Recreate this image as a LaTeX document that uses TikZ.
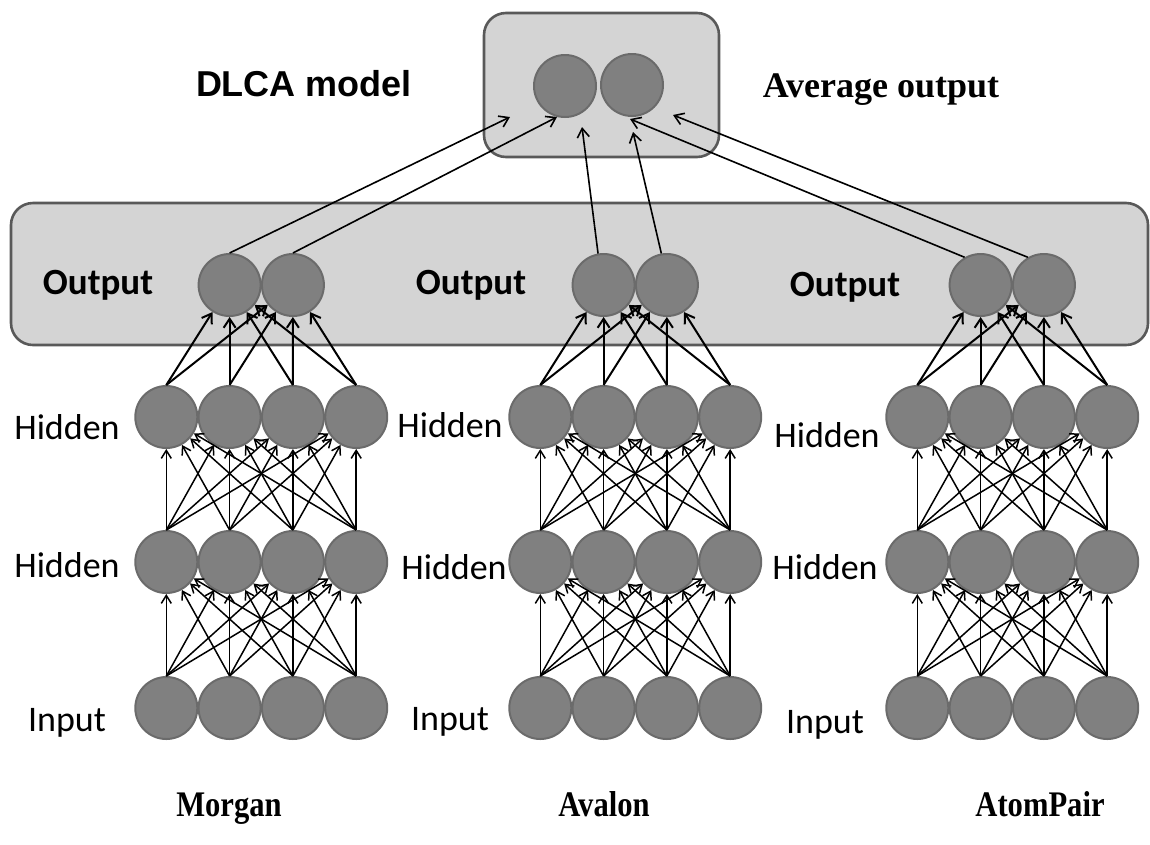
\documentclass[tikz,border=0pt]{standalone}
\usepackage{fontspec}
\setmainfont{Liberation Serif}
\newfontfamily\calibrifont{Carlito}
\newfontfamily\arialfont{Liberation Sans}
\usetikzlibrary{arrows.meta}

\begin{document}
\begin{tikzpicture}
  [x=1pt,y=-1pt,
   neuron/.style={shape=circle,minimum size=62pt,inner sep=0pt,draw=black!58,line width=2pt,fill=black!50},
   panel/.style={draw=black!65,line width=2.6pt,fill=black!17,rounded corners=22pt},
   layertxt/.style={font=\calibrifont\fontsize{36}{40}\selectfont},
   outtxt/.style={font=\calibrifont\bfseries\fontsize{37}{40}\selectfont},
   nettxt/.style={font=\bfseries\fontsize{36}{40}\selectfont},
   link/.style={line width=1.5pt,-{Straight Barb[length=8pt,width=10pt]}},
   outlink/.style={line width=2pt,-{Straight Barb[length=9pt,width=12pt]}},
   toplink/.style={line width=1.6pt,-{Straight Barb[length=9pt,width=12pt]}}]
\useasboundingbox (0,0) rectangle (1150,844);

\draw [panel] (484,13) rectangle (719,157);
\draw [panel] (11,203) rectangle (1148,345);

\node [neuron] (t1) at (565,86) {};
\node [neuron] (t2) at (632,85) {};

\foreach \n/\dx in {m/0,a/374,p/751} {
  \foreach \i in {1,2,3,4} {
    \node [neuron] (\n1\i) at (103+63.3*\i+\dx,708) {};
    \node [neuron] (\n2\i) at (103+63.3*\i+\dx,562) {};
    \node [neuron] (\n3\i) at (103+63.3*\i+\dx,417) {};
  }
  \node [neuron] (\n41) at (229.6+\dx,285) {};
  \node [neuron] (\n42) at (292.9+\dx,285) {};
}

\foreach \n in {m,a,p} {
  \foreach \i in {1,2,3,4} {
    \foreach \j in {1,2,3,4} {
      \draw [link] (\n1\i.north) -- (\n2\j) ;
      \draw [link] (\n2\i.north) -- (\n3\j) ;
    }
    \draw [outlink] (\n3\i.north) -- (\n41) ;
    \draw [outlink] (\n3\i.north) -- (\n42) ;
  }
}

\coordinate (x1) at (510,117) ;
\coordinate (x2) at (557,117) ;
\coordinate (x3) at (582,127) ;
\coordinate (x4) at (633,132) ;
\coordinate (x5) at (630,119) ;
\coordinate (x6) at (673,115) ;
\draw [toplink] (m41.north) -- (x1) ;
\draw [toplink] (m42.north) -- (x2) ;
\draw [toplink] (a41.100)   -- (x3) ;
\draw [toplink] (a42.100)   -- (x4) ;
\draw [toplink] (p41.120)   -- (x5) ;
\draw [toplink] (p42.120)   -- (x6) ;

\node [font=\arialfont\bfseries\fontsize{36}{40}\selectfont] (dlca) at (304,84) {DLCA model};
\node [nettxt] (avg) at (881,90) {Average output};

\node [outtxt] (mout) at (98,285) {Output};
\node [outtxt] (aout) at (471,285) {Output};
\node [outtxt] (pout) at (845,287) {Output};

\node [layertxt] (mh2) at (67,427) {Hidden};
\node [layertxt] (ah2) at (450,425) {Hidden};
\node [layertxt] (ph2) at (827,435) {Hidden};
\node [layertxt] (mh1) at (67,565) {Hidden};
\node [layertxt] (ah1) at (454,567) {Hidden};
\node [layertxt] (ph1) at (825,567) {Hidden};
\node [layertxt] (min) at (67,723) {Input};
\node [layertxt] (ain) at (450,722) {Input};
\node [layertxt] (pin) at (825,725) {Input};

\node [nettxt,anchor=base,xscale=0.85] (mname) at (229,816) {Morgan};
\node [nettxt,anchor=base,xscale=0.85] (aname) at (604,816) {Avalon};
\node [nettxt,anchor=base,xscale=0.85] (pname) at (1040,816) {AtomPair};
\end{tikzpicture}
\end{document}
